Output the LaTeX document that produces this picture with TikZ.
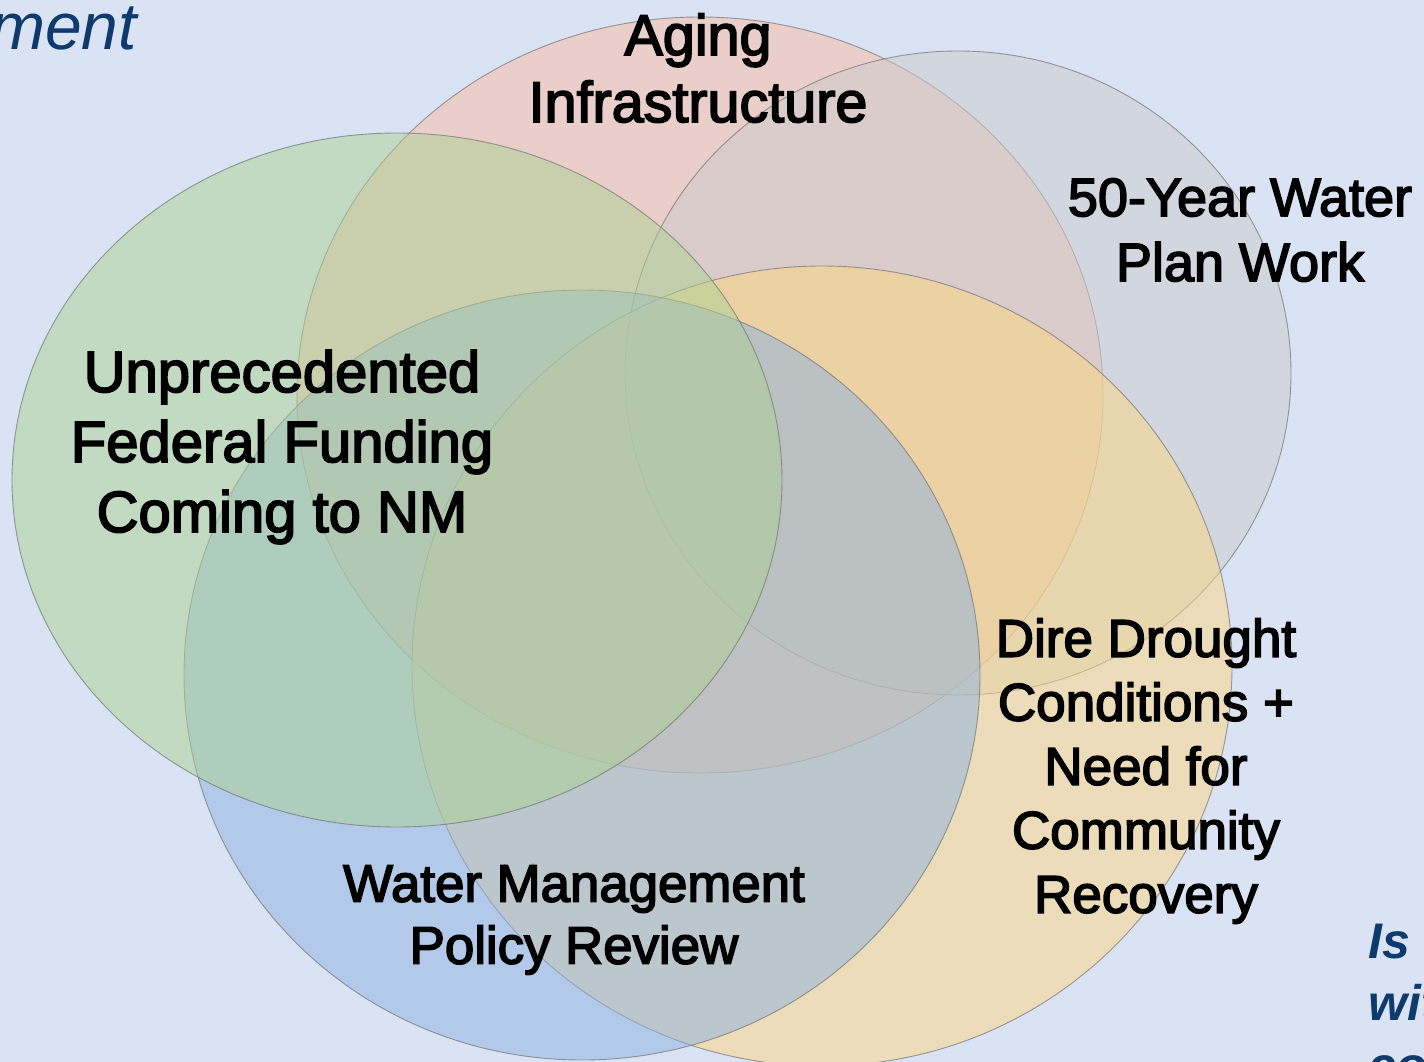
\documentclass[tikz,border=0pt]{standalone}
\usepackage{fontspec}
\setmainfont{Liberation Sans}
\newfontfamily\vennfont{Liberation Sans}[FakeBold=3]
\begin{document}
\begin{tikzpicture}[x=1pt,y=-1pt]
\definecolor{bg}{HTML}{DAE3F3}
\definecolor{redc}{HTML}{FABBA3}
\definecolor{grayc}{HTML}{CCCBCD}
\definecolor{greenc}{HTML}{ACD193}
\definecolor{bluec}{HTML}{8CB1E1}
\definecolor{orangec}{HTML}{FFD781}
\definecolor{navy}{HTML}{0E3A6E}
\tikzset{
  venn/.style={draw=black!55, line width=0.9pt, fill opacity=0.5, draw opacity=0.7},
  lbl/.style={align=center, text=black, inner sep=0pt},
  side/.style={text=navy, inner sep=0pt, anchor=base west, font=\fontsize{50}{62}\selectfont\bfseries\itshape}
}
\clip (0,0) rectangle (1424,1062);
\fill[bg] (0,0) rectangle (1424,1062);
\path[venn, fill=redc] (700,395) ellipse [x radius=403pt, y radius=378pt];
\path[venn, fill=grayc] (958,373) ellipse [x radius=333pt, y radius=322pt];
\path[venn, fill=orangec] (822,666) ellipse [x radius=410pt, y radius=400pt];
\path[venn, fill=bluec] (582,675) ellipse [x radius=398pt, y radius=385pt];
\path[venn, fill=greenc] (397,480) ellipse [x radius=385pt, y radius=347pt];

\node[lbl, font=\vennfont\fontsize{57.5}{67}\selectfont] (aging) at (698,68) {Aging\\Infrastructure};
\node[lbl, font=\vennfont\fontsize{54}{65}\selectfont] (plan) at (1240,230) {50-Year Water\\Plan Work};
\node[lbl, font=\vennfont\fontsize{58}{70}\selectfont] (fed) at (282,447) {Unprecedented\\Federal Funding\\Coming to NM};
\node[lbl, font=\vennfont\fontsize{53}{64}\selectfont] (drought) at (1146,771) {Dire Drought\\Conditions +\\Need for\\Community\\Recovery};
\node[lbl, font=\vennfont\fontsize{52.8}{62}\selectfont] (policy) at (574,920) {Water Management\\Policy Review};

\node[text=navy, inner sep=0pt, anchor=base east, font=\fontsize{66}{70}\selectfont\itshape] (ment) at (137,50) {ment};
\node[side] (is) at (1368,958) {Is};
\node[side] (wi) at (1368,1020) {with};
\node[side] (co) at (1368,1082) {co};
\end{tikzpicture}
\end{document}
